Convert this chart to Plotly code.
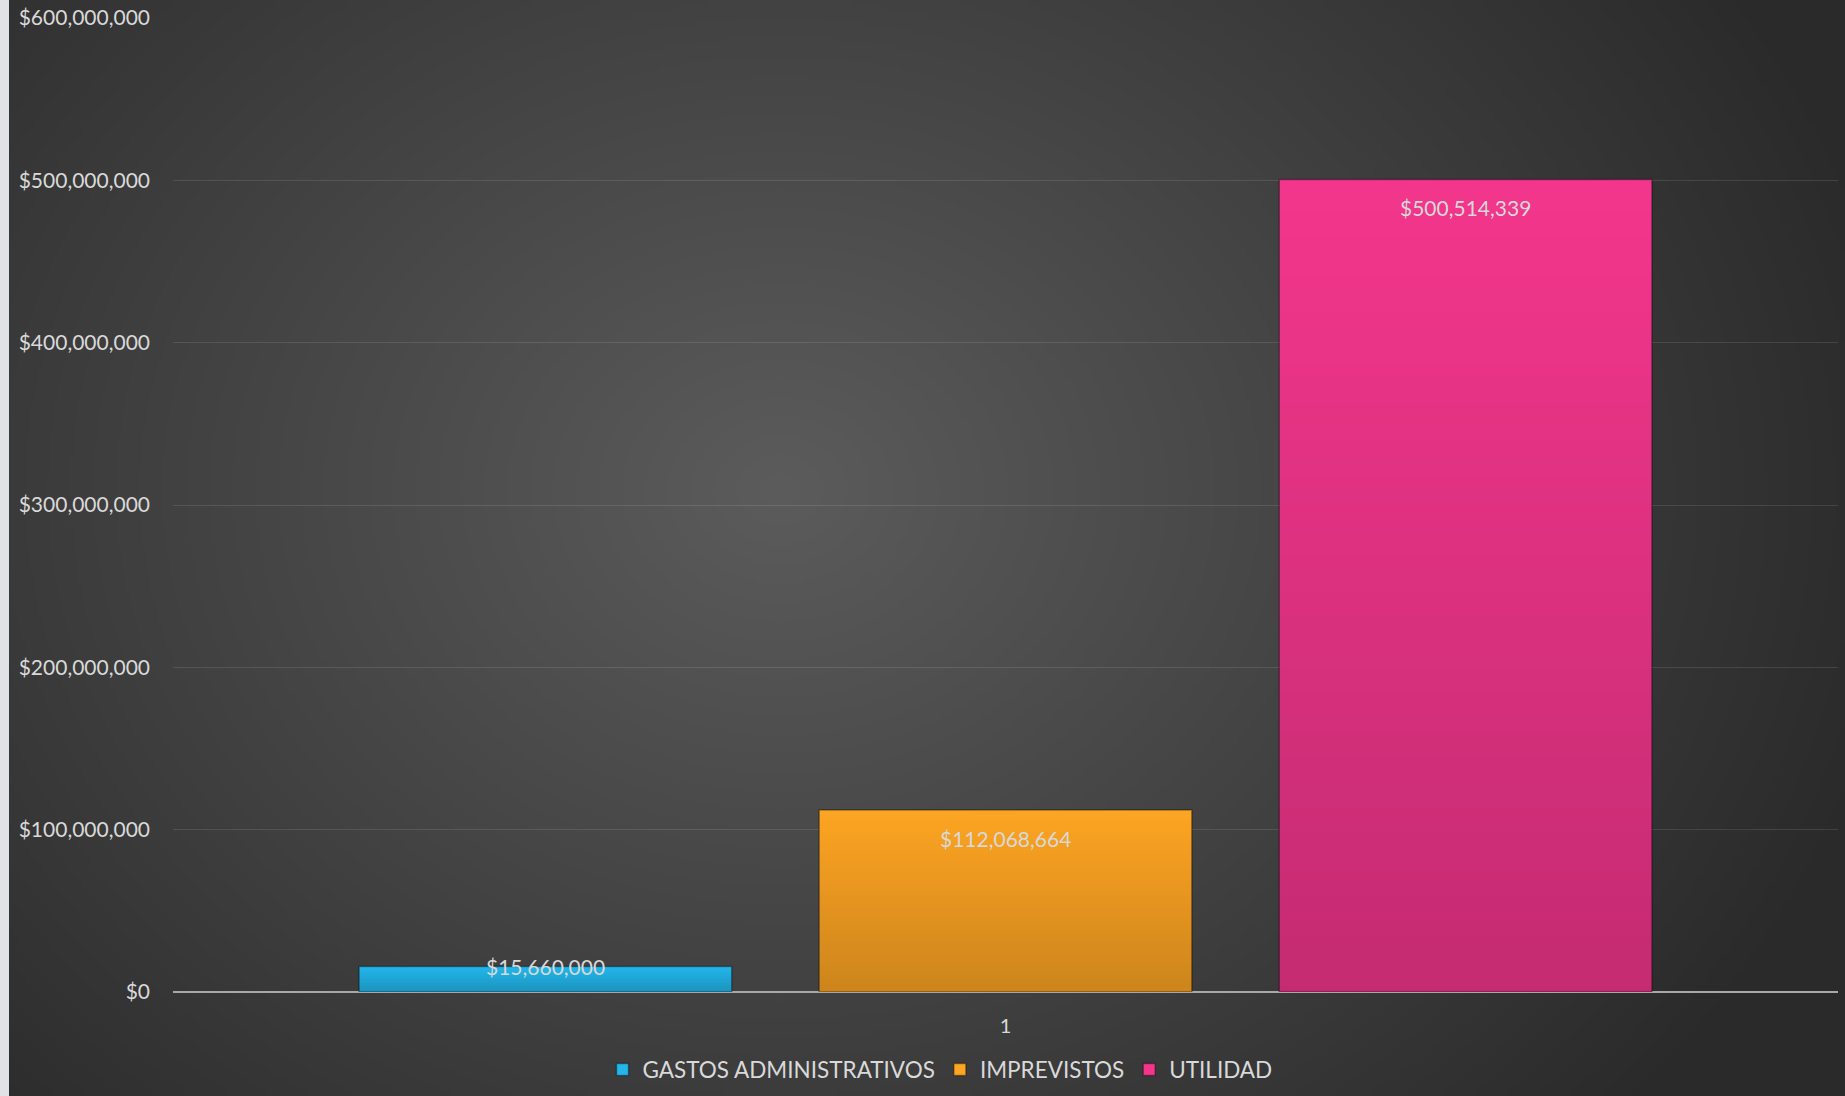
import base64
import struct
import zlib

import numpy as np
import plotly.graph_objects as go

# ---- data ----
categories = ["1"]
series_names = ["GASTOS ADMINISTRATIVOS", "IMPREVISTOS", "UTILIDAD"]
series_values = [[15660000], [112068664], [500514339]]
series_colors = ["#22b6e9", "#fca423", "#f2368c"]
y_tick_values = [0, 100000000, 200000000, 300000000, 400000000, 500000000, 600000000]
y_max = 600000000

# ---- layout geometry / style ----
W, H = 1845, 1096
ML, MR, MT, MB = 173, 7, 18, 104
PW, PH = W - ML - MR, H - MT - MB
STRIP = 9
BARGAP, GROUPGAP = 0.171, 0.19
LABEL_DROP = 28  # px below bar top for value label centre


def png_data_uri(arr):
    h, w, ch = arr.shape
    raw = b"".join(b"\x00" + arr[r].tobytes() for r in range(h))

    def chunk(tag, data):
        return (struct.pack(">I", len(data)) + tag + data +
                struct.pack(">I", zlib.crc32(tag + data) & 0xFFFFFFFF))

    ctype = 6 if ch == 4 else 2
    ihdr = struct.pack(">IIBBBBB", w, h, 8, ctype, 0, 0, 0)
    png = (b"\x89PNG\r\n\x1a\n" + chunk(b"IHDR", ihdr) +
           chunk(b"IDAT", zlib.compress(raw, 9)) + chunk(b"IEND", b""))
    return "data:image/png;base64," + base64.b64encode(png).decode()


# radial background gradient (style only)
gw, gh = 460, 272
gx = np.linspace(0, W, gw)[None, :]
gy = np.linspace(0, H, gh)[:, None]
cx, cy = 780.0, 490.0
t = np.sqrt(((gx - cx) / 1150.0) ** 2 + ((gy - cy) / 950.0) ** 2)
t = np.clip(t, 0, 1)
c0, c1 = 92.0, 42.0
val = (c0 + (c1 - c0) * t).astype(np.uint8)
bg_uri = png_data_uri(np.stack([val, val, val], axis=-1))

# vertical shading overlay for bars (style only): transparent top -> darker bottom
sh = 64
alpha = np.linspace(0, 0.19, sh)
shade = np.zeros((sh, 4, 4), dtype=np.uint8)
shade[:, :, 3] = (alpha[:, None] * 255).astype(np.uint8)
shade_uri = png_data_uri(shade)

fig = go.Figure()
n = len(series_names)
slot = (1 - BARGAP) / n
bar_w = slot * (1 - GROUPGAP)
annotations = []
images = [dict(
    source=bg_uri, xref="paper", yref="paper",
    x=-ML / PW, y=1 + MT / PH, sizex=W / PW, sizey=H / PH,
    xanchor="left", yanchor="top", sizing="stretch", layer="below",
)]

for i, (name, vals, col) in enumerate(zip(series_names, series_values, series_colors)):
    fig.add_trace(go.Bar(
        x=categories, y=vals, name=name,
        marker=dict(color=col, line=dict(color="rgba(0,0,0,0.35)", width=1.5)),
        hoverinfo="name+y",
    ))
    for j, v in enumerate(vals):
        xc = j + (i - (n - 1) / 2) * slot
        bar_px = v / y_max * PH
        drop = LABEL_DROP if bar_px > 2 * LABEL_DROP else 0
        annotations.append(dict(
            x=xc, y=v, xref="x", yref="y", text=f"${v:,.0f}",
            showarrow=False, yanchor="middle", xanchor="center", yshift=-drop,
            font=dict(family="Lato", size=21, color="#d8d8d8"),
        ))
        images.append(dict(
            source=shade_uri, xref="x", yref="y",
            x=xc - bar_w / 2, y=v, sizex=bar_w, sizey=v,
            xanchor="left", yanchor="top", sizing="stretch", layer="above",
        ))

fig.update_layout(
    width=W, height=H,
    margin=dict(l=ML, r=MR, t=MT, b=MB, pad=0, autoexpand=False),
    paper_bgcolor="#2a2a2a",
    plot_bgcolor="rgba(0,0,0,0)",
    barmode="group",
    bargap=BARGAP,
    bargroupgap=GROUPGAP,
    font=dict(family="Lato", color="#d9d9d9", size=19),
    showlegend=True,
    images=images,
    annotations=annotations,
    shapes=[dict(
        type="rect", xref="paper", yref="paper",
        x0=-ML / PW, x1=(STRIP - ML) / PW, y0=-MB / PH, y1=1 + MT / PH,
        fillcolor="#dfe3e5", line=dict(width=0), layer="below",
    )],
    legend=dict(
        orientation="h", x=(940 - ML) / PW, xanchor="center",
        y=-0.058, yanchor="top",
        font=dict(family="Lato", size=22.5, color="#d9d9d9"),
        bgcolor="rgba(0,0,0,0)",
        traceorder="normal",
    ),
    xaxis=dict(
        type="category",
        showgrid=False,
        showline=False,
        ticks="",
        ticklabelstandoff=20,
        tickfont=dict(family="Lato", size=20, color="#d9d9d9"),
    ),
    yaxis=dict(
        range=[0, y_max],
        tickvals=y_tick_values,
        tickformat="$,.0f",
        showgrid=True,
        gridcolor="rgba(255,255,255,0.11)",
        gridwidth=1,
        zeroline=True,
        zerolinecolor="#a8a8a8",
        zerolinewidth=2,
        ticks="",
        ticklabelstandoff=22,
        tickfont=dict(family="Lato", size=21, color="#d9d9d9"),
    ),
)

fig.write_html("out.html", config={"displayModeBar": False},
               post_script="document.body.style.margin='0px';")
